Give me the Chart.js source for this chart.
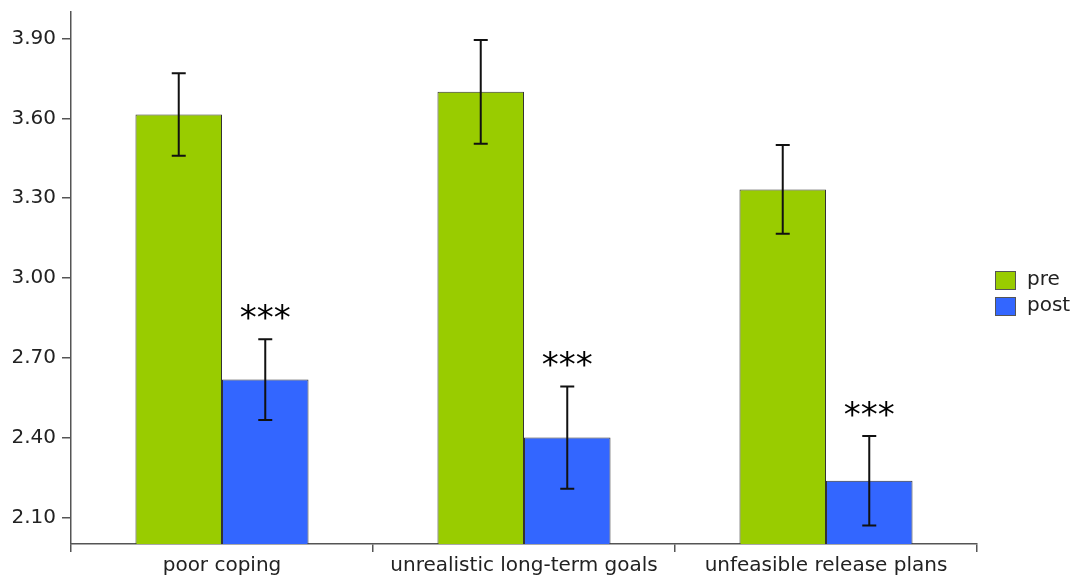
<!DOCTYPE html>
<html>
<head>
<meta charset="utf-8">
<script src="https://cdn.jsdelivr.net/npm/chart.js@4.4.0/dist/chart.umd.min.js"></script>
<style>
  html, body { margin: 0; padding: 0; background: #fff; }
  #wrap { width: 1075px; height: 576px; }
</style>
</head>
<body>
<div id="wrap"><canvas id="barChart"></canvas></div>
<script>
const categories = ['poor coping', 'unrealistic long-term goals', 'unfeasible release plans'];
const preValues = [3.615, 3.70, 3.333];
const postValues = [2.618, 2.40, 2.238];
const preErrors = [0.155, 0.195, 0.167];
const postErrors = [0.152, 0.192, 0.168];
const significance = ['***', '***', '***'];
const yTicks = [2.10, 2.40, 2.70, 3.00, 3.30, 3.60, 3.90];

const fontFamily = '"DejaVu Sans", sans-serif';
const textColor = '#222';
const axisColor = '#555';

// error bars + significance stars
const errorBarPlugin = {
  id: 'errorBars',
  afterDatasetsDraw(chart) {
    const ctx = chart.ctx;
    const yScale = chart.scales.y;
    const errs = [preErrors, postErrors];
    ctx.save();
    ctx.strokeStyle = '#111';
    ctx.lineWidth = 2;
    chart.data.datasets.forEach((ds, di) => {
      const meta = chart.getDatasetMeta(di);
      meta.data.forEach((bar, i) => {
        const v = ds.data[i];
        const top = yScale.getPixelForValue(v + errs[di][i]);
        const bot = yScale.getPixelForValue(v - errs[di][i]);
        const x = bar.x;
        ctx.beginPath();
        ctx.moveTo(x, top); ctx.lineTo(x, bot);
        ctx.moveTo(x - 7, top); ctx.lineTo(x + 7, top);
        ctx.moveTo(x - 7, bot); ctx.lineTo(x + 7, bot);
        ctx.stroke();
        if (di === 1) {
          ctx.fillStyle = '#000';
          ctx.font = '34px ' + fontFamily;
          ctx.textAlign = 'center';
          ctx.textBaseline = 'top';
          ctx.fillText(significance[i], x, top - 36);
        }
      });
    });
    ctx.restore();
  }
};

// legend drawn at the right like the original
const sideLegendPlugin = {
  id: 'sideLegend',
  afterDraw(chart) {
    const ctx = chart.ctx;
    ctx.save();
    ctx.font = '20px ' + fontFamily;
    ctx.textBaseline = 'middle';
    ctx.textAlign = 'left';
    chart.data.datasets.forEach((ds, i) => {
      const y = 271 + i * 26;
      ctx.fillStyle = ds.backgroundColor;
      ctx.fillRect(995, y, 21, 19);
      ctx.strokeStyle = '#555';
      ctx.lineWidth = 1;
      ctx.strokeRect(995.5, y + 0.5, 20, 18);
      ctx.fillStyle = textColor;
      ctx.fillText(ds.label, 1027, y + 9);
    });
    ctx.restore();
  }
};

new Chart(document.getElementById('barChart'), {
  type: 'bar',
  data: {
    labels: categories,
    datasets: [{
      label: 'pre',
      data: preValues,
      backgroundColor: '#99cc00',
      borderColor: '#333',
      borderWidth: 1,
    }, {
      label: 'post',
      data: postValues,
      backgroundColor: '#3366ff',
      borderColor: '#333',
      borderWidth: 1,
    }]
  },
  options: {
    responsive: true,
    maintainAspectRatio: false,
    animation: false,
    layout: { padding: { top: 12, right: 98, left: 0, bottom: 0 } },
    datasets: { bar: { categoryPercentage: 0.573, barPercentage: 1.0 } },
    plugins: {
      legend: { display: false },
      tooltip: { enabled: false }
    },
    scales: {
      y: {
        min: 2.0,
        max: 4.0,
        afterBuildTicks: (scale) => { scale.ticks = yTicks.map(v => ({ value: v })); },
        afterFit: (scale) => { scale.width = 71; scale.paddingTop = 0; scale.paddingBottom = 0; },
        ticks: {
          color: textColor,
          font: { family: fontFamily, size: 20 },
          padding: 6,
          callback: (v) => Number(v).toFixed(2)
        },
        border: { color: axisColor, width: 1.5 },
        grid: { drawOnChartArea: false, drawTicks: true, tickLength: 9, color: axisColor, lineWidth: 1.5 }
      },
      x: {
        afterFit: (scale) => { scale.height = 32; },
        ticks: {
          color: textColor,
          font: { family: fontFamily, size: 20 },
          padding: 2
        },
        border: { color: axisColor, width: 1.5 },
        grid: { offset: true, drawOnChartArea: false, drawTicks: true, tickLength: 8, color: axisColor, lineWidth: 1.5 }
      }
    }
  },
  plugins: [errorBarPlugin, sideLegendPlugin]
});
</script>
</body>
</html>
